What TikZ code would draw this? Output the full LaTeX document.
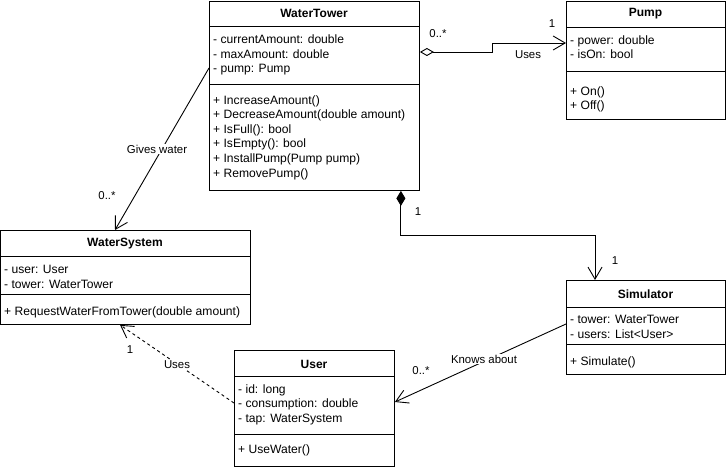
\documentclass[tikz,border=0pt]{standalone}
\usepackage{fontspec}
\setmainfont{Liberation Sans}
\usetikzlibrary{arrows.meta}
\begin{document}
\begin{tikzpicture}[x=1pt,y=-1pt,
  cls/.style={draw, line width=0.9pt, inner sep=0, anchor=north west},
  ttl/.style={font=\fontsize{12}{14}\selectfont\bfseries, inner sep=0},
  mem/.style={font=\fontsize{12.1}{14.6}\selectfont, align=left, anchor=west, inner sep=0},
  lbl/.style={font=\fontsize{11.4}{13}\selectfont, inner sep=1pt},
  wlbl/.style={lbl, fill=white},
  sepline/.style={line width=0.9pt},
  conn/.style={line width=0.9pt},
  opentip/.style={-{Straight Barb[length=12pt,width=14pt]}}
]
\fill[white] (0,0) rectangle (727,468);
\useasboundingbox (0,0) rectangle (727,468);

% WaterTower
\node[cls, minimum width=210pt, minimum height=189pt] (wt) at (209,1) {};
\draw[sepline] (209,26) -- (419,26);
\draw[sepline] (209,84) -- (419,84);
\node[ttl] (wtT) at (314,13.5) {WaterTower};
\node[mem] (wtA) at (213,55) {- currentAmount: double\\- maxAmount: double\\- pump: Pump};
\node[mem] (wtM) at (213,137.5) {+ IncreaseAmount()\\+ DecreaseAmount(double amount)\\+ IsFull(): bool\\+ IsEmpty(): bool\\+ InstallPump(Pump pump)\\+ RemovePump()};

% Pump
\node[cls, minimum width=159pt, minimum height=118pt] (pump) at (566,1) {};
\draw[sepline] (566,27) -- (725,27);
\draw[sepline] (566,71) -- (725,71);
\node[ttl] (pumpT) at (645.5,14) {Pump};
\node[mem] (pumpA) at (570,47) {- power: double\\- isOn: bool};
\node[mem] (pumpM) at (570,99.5) {+ On()\\+ Off()};

% WaterSystem
\node[cls, minimum width=250pt, minimum height=94pt] (ws) at (0,230) {};
\draw[sepline] (0,256) -- (250,256);
\draw[sepline] (0,294) -- (250,294);
\node[ttl] (wsT) at (125,243.5) {WaterSystem};
\node[mem] (wsA) at (4,277) {- user: User\\- tower: WaterTower};
\node[mem] (wsM) at (4,312) {+ RequestWaterFromTower(double amount)};

% User
\node[cls, minimum width=160pt, minimum height=116pt] (user) at (234,350) {};
\draw[sepline] (234,376) -- (394,376);
\draw[sepline] (234,434) -- (394,434);
\node[ttl] (userT) at (314,364) {User};
\node[mem] (userA) at (238,404.5) {- id: long\\- consumption: double\\- tap: WaterSystem};
\node[mem] (userM) at (238,450) {+ UseWater()};

% Simulator
\node[cls, minimum width=159pt, minimum height=94pt] (sim) at (566,280) {};
\draw[sepline] (566,307) -- (725,307);
\draw[sepline] (566,344) -- (725,344);
\node[ttl] (simT) at (645.5,294) {Simulator};
\node[mem] (simA) at (570,327) {- tower: WaterTower\\- users: List<User>};
\node[mem] (simM) at (570,362) {+ Simulate()};

% Connectors
\draw[conn, {Diamond[open,length=14pt,width=8pt]}-{Straight Barb[length=12pt,width=14pt]}]
  ([yshift=-51pt]wt.north east) -- ++(73,0) |- ([yshift=-42pt]pump.north west);
\node[lbl] (l1) at (438,34) {0..*};
\node[lbl] (l2) at (552,24) {1};
\node[lbl] (l3) at (528,55) {Uses};

\draw[conn, {Diamond[length=15pt,width=9pt]}-{Straight Barb[length=12pt,width=14pt]}]
  ([xshift=-19pt]wt.south east) -- ++(0,45) -| ([xshift=29pt]sim.north west);
\node[lbl] (l4) at (418,212) {1};
\node[lbl] (l5) at (615,261) {1};

\draw[conn, opentip] ([yshift=-67pt]wt.north west) -- ([xshift=115pt]ws.north west);
\node[wlbl] (l6) at (157,149) {Gives water};
\node[lbl] (l7) at (107,196) {0..*};

\draw[conn, opentip] ([yshift=-44pt]sim.north west) -- ([yshift=-52pt]user.north east);
\node[wlbl] (l8) at (484,359) {Knows about};
\node[lbl] (l9) at (421,371) {0..*};

\draw[conn, dashed, opentip] ([yshift=-53pt]user.north west) -- ([xshift=120pt]ws.south west);
\node[wlbl] (l10) at (177,365) {Uses};
\node[lbl] (l11) at (130,350) {1};
\end{tikzpicture}
\end{document}
